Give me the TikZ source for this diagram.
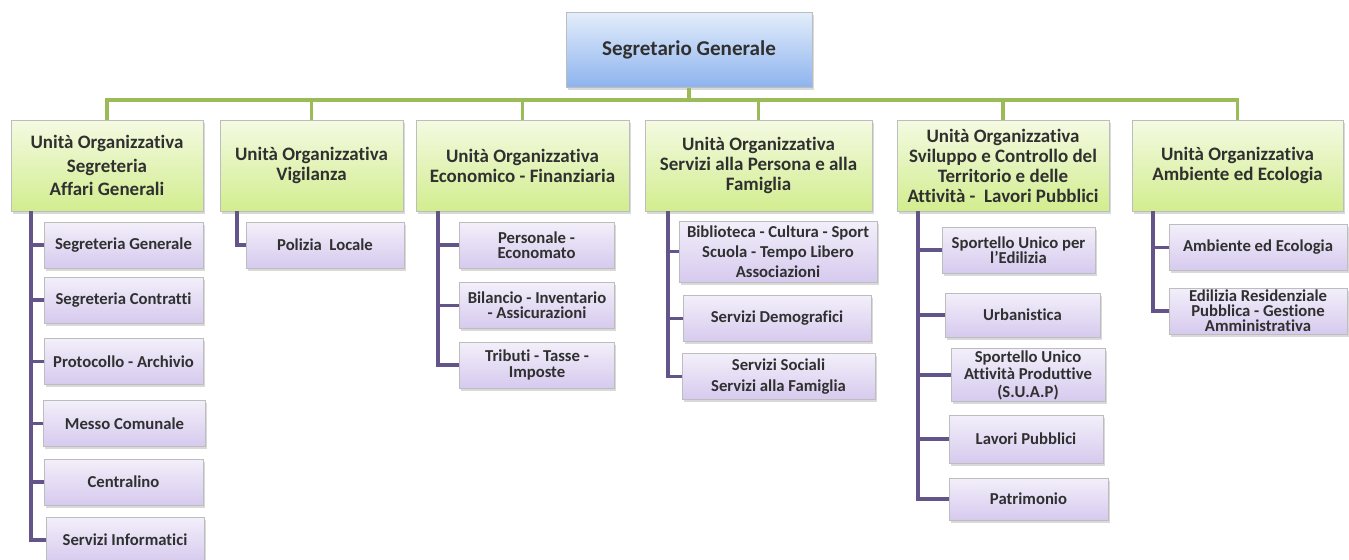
\documentclass[tikz,border=0pt]{standalone}
\usepackage{fontspec}
\setmainfont{Carlito}[Ligatures=NoCommon]
\usepackage{xcolor}
\usepackage{tikz}
\usetikzlibrary{positioning, shadows, calc}

\definecolor{headTop}{HTML}{E3EDFB}
\definecolor{headBot}{HTML}{8DB3EE}
\definecolor{unitTop}{HTML}{F4FAE2}
\definecolor{unitBot}{HTML}{D2ED8F}
\definecolor{officeTop}{HTML}{F3EFFA}
\definecolor{officeBot}{HTML}{D6CAEE}
\definecolor{busGreen}{HTML}{9BBB59}
\definecolor{branchPurple}{HTML}{63558A}
\definecolor{boxLine}{HTML}{BDBDBD}
\definecolor{txtGray}{HTML}{303030}

\newcommand{\packedlines}{\lineskiplimit=-5pt\relax}

\tikzset{
    head/.style={rectangle, draw=boxLine, top color=headTop, bottom color=headBot, minimum width=4.92cm, minimum height=1.5cm, align=center, text=txtGray, font=\bfseries\fontsize{12}{14}\selectfont, drop shadow={shadow xshift=1pt, shadow yshift=-1.5pt, opacity=0.3}},
    unit/.style={rectangle, draw=boxLine, top color=unitTop, bottom color=unitBot, minimum height=1.82cm, align=center, inner xsep=1pt, text=txtGray, font=\bfseries\fontsize{10.8}{11.4}\selectfont, drop shadow={shadow xshift=1pt, shadow yshift=-1.5pt, opacity=0.3}},
    office/.style={rectangle, draw=boxLine, top color=officeTop, bottom color=officeBot, minimum height=0.92cm, align=center, inner xsep=1pt, inner ysep=1pt, text=txtGray, font=\bfseries\fontsize{9.5}{11.5}\selectfont, drop shadow={shadow xshift=1pt, shadow yshift=-1.5pt, opacity=0.3}},
    tight/.style={font=\bfseries\fontsize{9.5}{8.6}\selectfont\packedlines},
    bus/.style={draw=busGreen, line width=2.2pt},
    branch/.style={draw=branchPurple, line width=2.2pt}
}

\begin{document}
\begin{tikzpicture}[x=0.02cm, y=-0.02cm]

    \useasboundingbox (0,0) rectangle (1349,560);

    % Segretario Generale
    \node[head] (Seg) at (689,50) {Segretario Generale};
    \coordinate (bus) at (689,100);

    % Unita' Organizzative
    \node[unit, minimum width=3.84cm, font=\bfseries\fontsize{10.8}{13.5}\selectfont] (U1) at (107,165.5) {Unità Organizzativa\\Segreteria\\Affari Generali};
    \node[unit, minimum width=3.66cm] (U2) at (311.5,165.5) {Unità Organizzativa\\Vigilanza};
    \node[unit, minimum width=4.26cm] (U3) at (522.5,165.5) {Unità Organizzativa\\Economico - Finanziaria};
    \node[unit, minimum width=4.54cm] (U4) at (758.5,165.5) {Unità Organizzativa\\Servizi alla Persona e alla\\Famiglia};
    \node[unit, minimum width=4.24cm] (U5) at (1003,165.5) {Unità Organizzativa\\Sviluppo e Controllo del\\Territorio e delle\\Attività -\ \ Lavori Pubblici};
    \node[unit, minimum width=4.22cm] (U6) at (1237.5,165.5) {Unità Organizzativa\\Ambiente ed Ecologia};

    \draw[bus] (Seg.south) -- (bus);
    \foreach \u in {U1,U2,U3,U4,U5,U6}
        \draw[bus] (bus) -| (\u.north);

    % Segreteria Affari Generali
    \node[office, minimum width=3.18cm] (S11) at (123.5,245) {Segreteria Generale};
    \node[office, minimum width=3.18cm] (S12) at (123.5,300) {Segreteria Contratti};
    \node[office, minimum width=3.18cm] (S13) at (123.5,361.5) {Protocollo - Archivio};
    \node[office, minimum width=3.24cm] (S14) at (124.5,423.5) {Messo Comunale};
    \node[office, minimum width=3.18cm] (S15) at (123.5,482) {Centralino};
    \node[office, minimum width=3.16cm] (S16) at (125,540) {Servizi Informatici};

    % Vigilanza
    \node[office, minimum width=3.16cm] (S21) at (325,245) {Polizia\ \ Locale};

    % Economico - Finanziaria
    \node[office, tight, minimum width=3.1cm] (S31) at (536.5,245) {Personale -\\Economato};
    \node[office, tight, minimum width=3.1cm] (S32) at (537,305.5) {Bilancio - Inventario\\- Assicurazioni};
    \node[office, tight, minimum width=3.1cm] (S33) at (537,365) {Tributi - Tasse -\\Imposte};

    % Servizi alla Persona
    \node[office, minimum width=3.96cm, minimum height=1.22cm] (S41) at (778,251.5) {Biblioteca - Cultura - Sport\\Scuola - Tempo Libero\\Associazioni};
    \node[office, minimum width=3.76cm] (S42) at (777,318.5) {Servizi Demografici};
    \node[office, minimum width=3.86cm] (S43) at (778.5,376.5) {Servizi Sociali\\Servizi alla Famiglia};

    % Sviluppo e Controllo del Territorio
    \node[office, tight, minimum width=3.06cm] (S51) at (1018.5,250) {Sportello Unico per\\l'Edilizia};
    \node[office, minimum width=3.1cm, minimum height=0.88cm] (S52) at (1022.5,315) {Urbanistica};
    \node[office, font=\bfseries\fontsize{9.5}{10}\selectfont\packedlines, minimum width=3.08cm] (S53) at (1028,375) {Sportello Unico\\Attività Produttive\\(S.U.A.P)};
    \node[office, minimum width=3.08cm, minimum height=0.96cm] (S54) at (1026,439) {Lavori Pubblici};
    \node[office, minimum width=3.18cm, minimum height=0.84cm] (S55) at (1028.5,499) {Patrimonio};

    % Ambiente ed Ecologia
    \node[office, minimum width=3.56cm] (S61) at (1258,247.5) {Ambiente ed Ecologia};
    \node[office, tight, minimum width=3.56cm] (S62) at (1258,311) {Edilizia Residenziale\\Pubblica - Gestione\\Amministrativa};

    % Branches
    \foreach \s in {1,...,6}
        \draw[branch] ([xshift=0.4cm]U1.south west) |- (S1\s.west);
    \draw[branch] ([xshift=0.34cm]U2.south west) |- (S21.west);
    \foreach \s in {1,2,3}
        \draw[branch] ([xshift=0.44cm]U3.south west) |- (S3\s.west);
    \foreach \s in {1,2,3}
        \draw[branch] ([xshift=0.46cm]U4.south west) |- (S4\s.west);
    \foreach \s in {1,...,5}
        \draw[branch] ([xshift=0.42cm]U5.south west) |- (S5\s.west);
    \foreach \s in {1,2}
        \draw[branch] ([xshift=0.42cm]U6.south west) |- (S6\s.west);

\end{tikzpicture}
\end{document}
